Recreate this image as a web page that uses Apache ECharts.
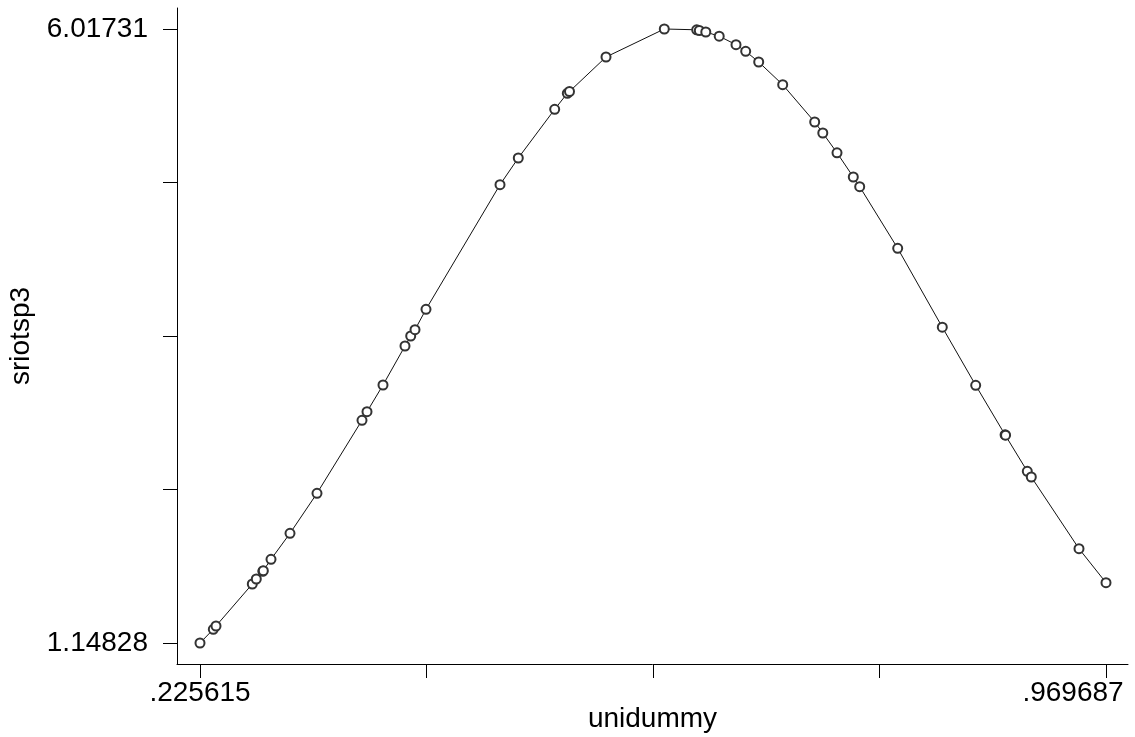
<!DOCTYPE html>
<html>
<head>
<meta charset="utf-8">
<script src="https://cdn.jsdelivr.net/npm/echarts@6/dist/echarts.min.js"></script>
<style>
html,body{margin:0;padding:0;background:#fff;overflow:hidden;width:100%;height:100%;}
#chart{position:fixed;left:0;top:0;width:1135px;height:737px;}
</style>
</head>
<body>
<div id="chart"></div>
<script>
// Data
const unidummy = [0.225615, 0.23654, 0.23876, 0.26857, 0.27185, 0.2772, 0.2776, 0.28393, 0.29953, 0.3217,
  0.35866, 0.36277, 0.37591, 0.39397, 0.39866, 0.40219, 0.41122, 0.47200, 0.48702, 0.51692,
  0.52727, 0.52907, 0.55906, 0.60693, 0.63354, 0.63568, 0.64101, 0.65202, 0.66582, 0.67378,
  0.68446, 0.70417, 0.73045, 0.7371, 0.74877, 0.76215, 0.76741, 0.79861, 0.83524, 0.86267,
  0.8868, 0.8872, 0.90505, 0.90834, 0.94751, 0.969687];
const sriotsp3 = [1.14828, 1.2569, 1.2831, 1.61615, 1.6558, 1.717, 1.722, 1.81202, 2.0182, 2.3354,
  2.91429, 2.98249, 3.19422, 3.50349, 3.58279, 3.63275, 3.79452, 4.7826, 4.99433, 5.38052,
  5.5074, 5.52168, 5.79526, 6.01731, 6.01096, 6.00541, 5.99351, 5.9602, 5.8928, 5.84046,
  5.75561, 5.5756, 5.27981, 5.19258, 5.03557, 4.84366, 4.76674, 4.27825, 3.65257, 3.19184,
  2.799, 2.796, 2.50986, 2.46466, 1.89608, 1.62646];
const xTicks = [0.225615, 0.411633, 0.597651, 0.783669, 0.969687];
const xTickLabels = [0.225615, 0.969687];
const yTicks = [1.14828, 2.3655375, 3.582795, 4.8000525, 6.01731];
const yTickLabels = [1.14828, 6.01731];
const xLabelText = {0.225615: '.225615', 0.969687: '.969687'};
const yLabelText = {1.14828: '1.14828', 6.01731: '6.01731'};

const FONT = "'Liberation Sans', Arial, Helvetica, sans-serif";
const FS = 28;
const chart = echarts.init(document.getElementById('chart'), null, {renderer: 'canvas', width: 1135, height: 737});
chart.setOption({
  animation: false,
  backgroundColor: '#fff',
  grid: {left: 177, right: 7, top: 8, bottom: 73, containLabel: false, outerBoundsMode: 'none'},
  xAxis: {
    type: 'value',
    min: 0.206726, max: 0.987755,
    name: 'unidummy', nameLocation: 'middle', nameGap: 41, nameMoveOverlap: false,
    nameTextStyle: {fontFamily: FONT, fontSize: FS, color: '#000'},
    axisLine: {show: true, lineStyle: {color: '#000', width: 1}},
    axisTick: {show: true, length: 14, customValues: xTicks, lineStyle: {color: '#000', width: 1}},
    axisLabel: {show: true, customValues: xTickLabels, margin: 15,
      fontFamily: FONT, fontSize: FS, color: '#000',
      formatter: v => v === xTickLabels[xTickLabels.length - 1] ? '{last|' + xLabelText[v] + '}' : xLabelText[v],
      rich: {last: {fontFamily: FONT, fontSize: FS, color: '#000', padding: [0, 66, 0, 0]}}},
    splitLine: {show: false}
  },
  yAxis: {
    type: 'value',
    min: 0.98175, max: 6.18384,
    name: 'sriotsp3', nameLocation: 'middle', nameGap: 142, nameRotate: 90, nameMoveOverlap: false,
    nameTextStyle: {fontFamily: FONT, fontSize: FS, color: '#000'},
    axisLine: {show: true, lineStyle: {color: '#000', width: 1}},
    axisTick: {show: true, length: 14, customValues: yTicks, lineStyle: {color: '#000', width: 1}},
    axisLabel: {show: true, customValues: yTickLabels, margin: 29,
      fontFamily: FONT, fontSize: FS, color: '#000',
      formatter: v => yLabelText[v] !== undefined ? yLabelText[v] : String(v)},
    splitLine: {show: false}
  },
  series: [{
    type: 'line',
    data: unidummy.map((x, i) => [x, sriotsp3[i]]),
    symbol: 'emptyCircle',
    symbolSize: 9,
    showAllSymbol: true,
    lineStyle: {color: '#111', width: 1},
    itemStyle: {color: '#333', borderColor: '#333', borderWidth: 1},
    emphasis: {disabled: true}
  }]
});
</script>
</body>
</html>
